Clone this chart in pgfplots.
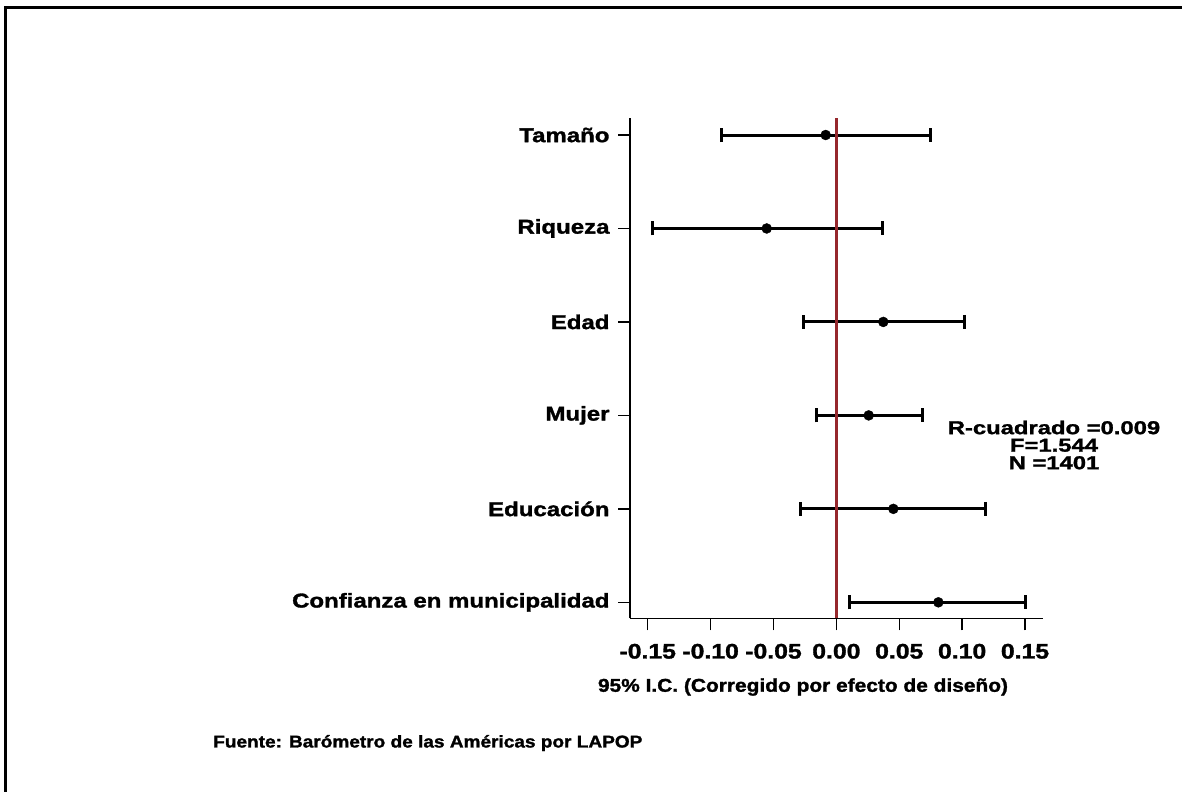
\documentclass[border=0pt]{standalone}
\usepackage{pgfplots}
\pgfplotsset{compat=1.18}
\usepackage{pgfplotstable}
\usepackage{fontspec}
\setmainfont{Liberation Sans}
\newfontfamily\ffy{Liberation Sans Bold}[FakeStretch=1.2,FakeBold=1.5]
\newfontfamily\ffx{Liberation Sans Bold}[FakeStretch=1.18,FakeBold=1.5]
\newfontfamily\fft{Liberation Sans Bold}[FakeStretch=1.13,FakeBold=1.5]
\newfontfamily\ffs{Liberation Sans Bold}[FakeStretch=1.28,FakeBold=1.5]
\newfontfamily\fff{Liberation Sans Bold}[FakeStretch=1.12,FakeBold=1.5]
\definecolor{refred}{RGB}{150,40,45}
\pgfplotstableread{
y est lo hi
0 0.0811 0.0103 0.1500
1 0.0453 -0.0283 0.1184
2 0.0257 -0.0162 0.0683
3 0.0373 -0.0263 0.1017
4 -0.0554 -0.1463 0.0369
5 -0.0085 -0.0917 0.0745
}\coefs
\begin{document}
\begin{tikzpicture}[x=1bp,y=1bp]
\useasboundingbox (0,0) rectangle (1182,-792);
\draw[line width=3bp] (5,-792) -- (5,-7.5) -- (1182,-7.5);
\begin{axis}[
  at={(630bp,-618.3bp)}, anchor=south west,
  scale only axis, width=413bp, height=500.3bp,
  xmin=-0.1641, xmax=0.1643, ymin=-0.171, ymax=5.182,
  axis lines*=left,
  axis line style={line width=1.5bp},
  xtick={-0.15,-0.1,-0.05,0,0.05,0.1,0.15},
  xticklabels={-0.15,-0.10,-0.05,0.00,0.05,0.10,0.15},
  ytick={0,1,2,3,4,5},
  yticklabels={Confianza en municipalidad,Educación,Mujer,Edad,Riqueza,Tamaño},
  tick align=outside, major tick length=12bp,
  tick style={line width=1.5bp, black},
  xticklabel style={font=\fontsize{21bp}{25bp}\selectfont\ffx, yshift=-10bp},
  yticklabel style={font=\fontsize{20bp}{24bp}\selectfont\ffy, xshift=-5bp},
  clip=false,
]
\addplot[only marks, mark=*, mark size=5bp, black, mark options={fill=black},
  error bars/.cd, x dir=both, x explicit,
  error bar style={line width=3bp},
  error mark options={line width=3bp, mark size=7bp, rotate=90}]
  table[x=est, y=y, x error minus expr=\thisrow{est}-\thisrow{lo}, x error plus expr=\thisrow{hi}-\thisrow{est}] {\coefs};
\addplot[refred, line width=3bp] coordinates {(0,-0.171) (0,5.182)};
\end{axis}
\node[font=\fontsize{18.5bp}{22bp}\selectfont\fft] at (803,-687) {95\% I.C. (Corregido por efecto de diseño)};
\node[font=\fontsize{17bp}{20bp}\selectfont\fff, anchor=west, inner sep=0pt] at (213,-743) {Fuente: Barómetro de las Américas por LAPOP};
\node[font=\fontsize{18.6bp}{17.5bp}\selectfont\ffs, align=center] at (1054,-445) {R-cuadrado =0.009\\F=1.544\\N =1401};
\end{tikzpicture}
\end{document}
